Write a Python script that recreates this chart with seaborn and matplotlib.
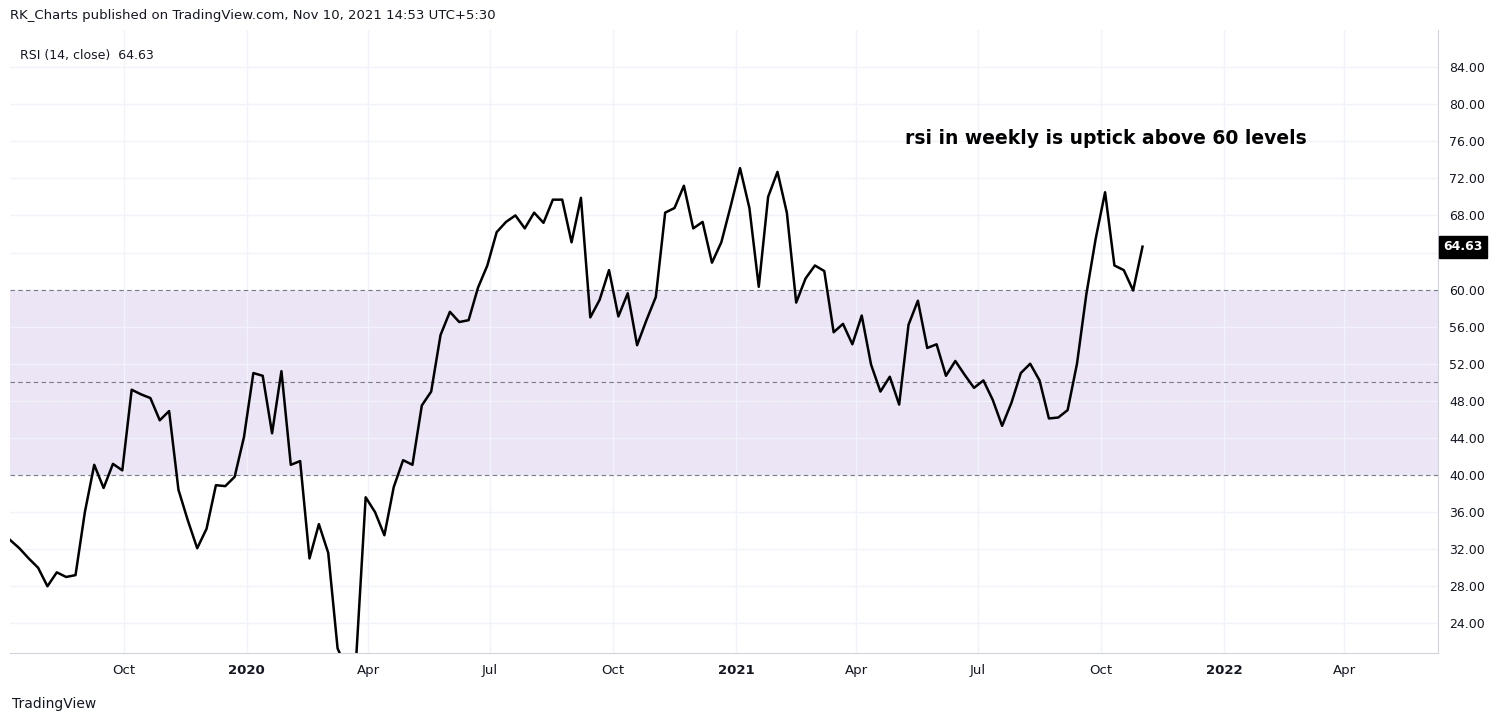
import pandas as pd
import matplotlib.pyplot as plt
import seaborn as sns

rsi = [33.0, 32.1, 31.0, 30.0, 28.0, 29.5, 29.0, 29.2, 36.0, 41.1, 38.6, 41.2, 40.5, 49.2, 48.7, 48.3,
       45.9, 46.9, 38.4, 35.1, 32.1, 34.2, 38.9, 38.8, 39.8, 44.1, 51.0, 50.7, 44.5, 51.2, 41.1, 41.5,
       31.0, 34.7, 31.6, 21.3, 19.0, 20.5, 37.6, 36.0, 33.5, 38.7, 41.6, 41.1, 47.5, 49.0, 55.1, 57.6,
       56.5, 56.7, 60.2, 62.6, 66.2, 67.3, 68.0, 66.6, 68.3, 67.2, 69.7, 69.7, 65.1, 69.9, 57.0, 58.9,
       62.1, 57.1, 59.6, 54.0, 56.7, 59.2, 68.3, 68.8, 71.2, 66.6, 67.3, 62.9, 65.1, 69.0, 73.1, 68.8,
       60.3, 70.0, 72.7, 68.3, 58.6, 61.2, 62.6, 62.0, 55.4, 56.3, 54.1, 57.2, 51.9, 49.0, 50.6, 47.6,
       56.2, 58.8, 53.7, 54.1, 50.7, 52.3, 50.8, 49.4, 50.2, 48.1, 45.3, 47.8, 51.0, 52.0, 50.2, 46.1,
       46.2, 47.0, 52.0, 59.5, 65.5, 70.5, 62.6, 62.1, 59.9, 64.63]
dates = pd.date_range("2019-07-08", periods=len(rsi), freq="W-MON")
df = pd.DataFrame({"date": dates, "rsi": rsi})

upper, middle, lower = 60, 50, 40
y_ticks = list(range(24, 88, 4))
x_ticks = ["2019-10-01", "2020-01-01", "2020-04-01", "2020-07-01", "2020-10-01",
           "2021-01-01", "2021-04-01", "2021-07-01", "2021-10-01", "2022-01-01", "2022-04-01"]
x_labels = ["Oct", "2020", "Apr", "Jul", "Oct", "2021", "Apr", "Jul", "Oct", "2022", "Apr"]

fig = plt.figure(figsize=(15.05, 7.23), dpi=100)
ax = fig.add_axes([10 / 1505, 70 / 723, 1428 / 1505, 623 / 723])
ax.axhspan(lower, upper, color="#ebe5f5", lw=0, zorder=0)
for lv in (upper, middle, lower):
    ax.axhline(lv, color="#787b86", ls=(0, (4, 3)), lw=0.8, zorder=2)
sns.lineplot(data=df, x="date", y="rsi", color="black", lw=1.8, ax=ax, zorder=3)

ax.set_ylim(20.8, 88.0)
ax.set_xlim(pd.Timestamp("2019-07-08"), pd.Timestamp("2022-06-10"))
ax.yaxis.tick_right()
ax.set_yticks(y_ticks)
# the last-value badge covers the 64.00 tick label, as in the reference
ax.set_yticklabels(["" if v == 64 else f"{v:.2f}" for v in y_ticks], fontsize=9, color="#131722")
ax.set_xticks(pd.to_datetime(x_ticks))
ax.set_xticklabels(x_labels, fontsize=9.5, color="#131722")
for lab in ax.get_xticklabels():
    if lab.get_text().startswith("20"):
        lab.set_fontweight("bold")
ax.tick_params(length=0, pad=8)
ax.grid(True, color="#f0f3fa", lw=1, zorder=1)
ax.set_axisbelow(True)
ax.set_xlabel("")
ax.set_ylabel("")
for s in ax.spines.values():
    s.set_color("#d1d4dc")
ax.spines["top"].set_visible(False)
ax.spines["left"].set_visible(False)

ax.text(0.007, 0.97, "RSI (14, close)  64.63", transform=ax.transAxes, fontsize=9, color="#131722", va="top")
ax.text(0.627, 0.826, "rsi in weekly is uptick above 60 levels", transform=ax.transAxes,
        fontsize=13.5, fontweight="bold", color="black", va="center")
ax.annotate(f"{rsi[-1]:.2f}", xy=(1.0, rsi[-1]), xycoords=("axes fraction", "data"),
            xytext=(1.004, rsi[-1]), textcoords=("axes fraction", "data"), va="center", ha="left",
            fontsize=9, fontweight="bold", color="white", zorder=5,
            bbox=dict(boxstyle="square,pad=0.35", fc="black", ec="black"))
fig.text(10 / 1505, 1 - 16 / 723, "RK_Charts published on TradingView.com, Nov 10, 2021 14:53 UTC+5:30",
         fontsize=9.5, color="#131722", va="center")
fig.text(12 / 1505, 1 - 704 / 723, "TradingView", fontsize=10, color="#131722", va="center")
fig.savefig("out.png", dpi=100)
